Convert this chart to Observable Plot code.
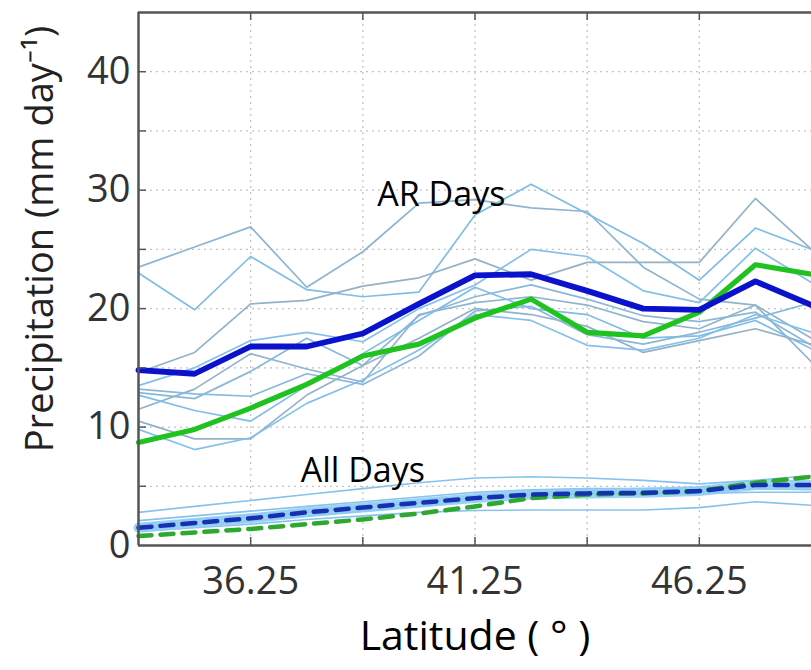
<!DOCTYPE html>
<html><head><meta charset="utf-8">
<script src="https://cdn.jsdelivr.net/npm/d3@7"></script>
<script src="https://cdn.jsdelivr.net/npm/@observablehq/plot@0.6"></script>
<style>html,body{margin:0;padding:0;background:#fff;overflow:hidden}</style>
</head><body><div id="chart"></div>
<script>
// Latitude grid (deg)
const lats = [33.75, 35, 36.25, 37.5, 38.75, 40, 41.25, 42.5, 43.75, 45, 46.25, 47.5, 48.75];

// AR days: individual models (thin light blue)
const arModels = [
  [23.5, 25.2, 26.9, 21.8, 24.8, 28.9, 29.2, 28.5, 28.2, 23.5, 20.8, 20.3, 15.5],
  [23.0, 19.9, 24.4, 21.6, 21.0, 21.4, 27.9, 30.5, 28.0, 25.5, 22.4, 26.8, 25.0],
  [14.6, 16.3, 20.4, 20.7, 21.9, 22.6, 24.2, 22.4, 23.9, 23.9, 23.9, 29.3, 25.0],
  [13.5, 15.0, 17.3, 18.0, 17.2, 20.0, 22.0, 25.0, 24.4, 21.5, 20.5, 25.1, 22.2],
  [12.9, 12.4, 14.7, 17.5, 15.2, 19.4, 21.0, 22.0, 20.8, 19.4, 18.9, 19.7, 16.9],
  [11.5, 13.2, 16.2, 14.9, 13.8, 19.5, 20.5, 21.0, 20.3, 18.9, 18.3, 20.3, 17.5],
  [12.7, 11.4, 10.5, 13.5, 16.2, 19.0, 21.8, 20.0, 19.5, 17.5, 17.7, 19.0, 16.6],
  [10.5, 9.0, 9.0, 12.7, 15.2, 17.5, 20.0, 19.5, 18.5, 16.3, 17.3, 18.3, 17.0],
  [9.8, 8.1, 9.1, 12.0, 14.0, 16.5, 19.5, 19.0, 16.9, 16.5, 17.5, 19.5, 18.0],
  [13.2, 12.8, 12.6, 14.5, 13.6, 16.0, 19.8, 20.2, 17.8, 17.0, 18.0, 19.2, 20.5]
];
// AR days: ensemble means
const arBlue  = [14.8, 14.5, 16.8, 16.8, 17.9, 20.4, 22.8, 22.9, 21.5, 20.0, 19.9, 22.3, 20.3];
const arGreen = [8.7, 9.8, 11.6, 13.6, 16.0, 17.0, 19.2, 20.8, 18.0, 17.7, 19.7, 23.7, 22.9];

// All days: individual models
const allModels = [
  [2.8, 3.3, 3.8, 4.3, 4.8, 5.3, 5.7, 5.8, 5.7, 5.5, 5.2, 5.5, 5.9],
  [2.1, 2.5, 2.9, 3.3, 3.7, 4.1, 4.5, 4.7, 4.8, 4.8, 4.9, 5.0, 5.2],
  [1.8, 2.2, 2.6, 3.0, 3.4, 3.8, 4.2, 4.5, 4.6, 4.6, 4.7, 5.0, 4.9],
  [1.4, 1.7, 2.1, 2.5, 2.9, 3.3, 3.8, 4.2, 4.3, 4.3, 4.4, 4.5, 4.5],
  [1.2, 1.5, 1.8, 2.2, 2.5, 2.8, 2.95, 3.0, 3.0, 3.0, 3.2, 3.7, 3.4],
  [1.6, 2.0, 2.4, 2.8, 3.2, 3.6, 4.0, 4.3, 4.4, 4.4, 4.5, 4.8, 4.7]
];
const allBlue  = [1.5, 1.9, 2.3, 2.8, 3.2, 3.6, 4.0, 4.3, 4.4, 4.45, 4.6, 5.1, 5.1];
const allGreen = [0.8, 1.1, 1.4, 1.8, 2.2, 2.7, 3.3, 4.0, 4.3, 4.4, 4.6, 5.3, 5.8];

// Axes
const xDomain = [33.75, 48.75];
const yDomain = [0, 45];
const xTickLabels = [36.25, 41.25, 46.25];
const yTickLabels = [0, 10, 20, 30, 40];
const xGrid = [36.25, 38.75, 41.25, 43.75, 46.25];
const yGrid = [5, 10, 15, 20, 25, 30, 35, 40];
const labels = [
  {text: "AR Days", lat: 40.5, p: 29.6},
  {text: "All Days", lat: 38.75, p: 6.3}
];

const thinColors = ["#8fb4cf", "#7fbde6", "#92b2c8", "#84c0ea", "#8ab8d8"];
const long = (arrs, prefix) => arrs.flatMap((a, i) => a.map((v, j) => ({lat: lats[j], v, id: prefix + i, c: thinColors[i % thinColors.length]})));
const series = a => a.map((v, j) => ({lat: lats[j], v}));

const W = 811, H = 670, mL = 138, mT = 12, mB = 125;
const fw = W - mL, fh = H - mT - mB;

const chart = Plot.plot({
  width: W, height: H,
  marginLeft: mL, marginRight: 0, marginTop: mT, marginBottom: mB,
  style: {fontFamily: "'Open Sans', sans-serif", background: "white", overflow: "hidden"},
  x: {domain: xDomain},
  y: {domain: yDomain},
  marks: [
    Plot.ruleX(xGrid, {stroke: "#c4c4c4", strokeDasharray: "2,4", strokeWidth: 1.3}),
    Plot.ruleY(yGrid, {stroke: "#c4c4c4", strokeDasharray: "2,4", strokeWidth: 1.3}),
    Plot.line(long(allModels, "a"), {x: "lat", y: "v", z: "id", stroke: "#86c3ec", strokeWidth: 1.6}),
    Plot.line(series(allBlue), {x: "lat", y: "v", stroke: "#8ecbf3", strokeWidth: 10, strokeOpacity: 0.85}),
    Plot.line(long(arModels, "m"), {x: "lat", y: "v", z: "id", stroke: "c", strokeWidth: 1.7}),
    Plot.line(series(allGreen), {x: "lat", y: "v", stroke: "#2fa82f", strokeWidth: 4.5, strokeDasharray: "13,9"}),
    Plot.line(series(allBlue), {x: "lat", y: "v", stroke: "#1530b0", strokeWidth: 4.5, strokeDasharray: "13,9"}),
    Plot.line(series(arGreen), {x: "lat", y: "v", stroke: "#1fc21f", strokeWidth: 5.2}),
    Plot.line(series(arBlue), {x: "lat", y: "v", stroke: "#0a12cc", strokeWidth: 5.8}),
    Plot.text(labels, {x: "lat", y: "p", text: "text", fontSize: 34, fill: "#000"}),
    // frame (left, top, bottom)
    Plot.ruleX([xDomain[0]], {stroke: "#555", strokeWidth: 2.5}),
    Plot.ruleY([yDomain[0], yDomain[1]], {stroke: "#555", strokeWidth: 2.5}),
    // inward tick marks
    Plot.ruleY(yGrid, {stroke: "#555", strokeWidth: 1.5, insetRight: fw - 8}),
    Plot.ruleX(xGrid, {stroke: "#555", strokeWidth: 1.5, insetTop: fh - 8}),
    Plot.ruleX(xGrid, {stroke: "#555", strokeWidth: 1.5, insetBottom: fh - 8}),
    Plot.axisX(xTickLabels, {tickSize: 0, tickPadding: 22, fontSize: 38, fill: "#333", label: null, tickFormat: d => d.toFixed(2)}),
    Plot.axisY(yTickLabels, {tickSize: 0, tickPadding: 8, fontSize: 38, fill: "#333", label: null}),
    Plot.text(["Latitude ( ° )"], {frameAnchor: "bottom", dy: 104, fontSize: 41, fill: "#000"}),
    Plot.text(["Precipitation (mm day⁻¹)"], {frameAnchor: "left", textAnchor: "middle", rotate: -90, dx: -98, dy: -40, fontSize: 38, fill: "#222"})
  ]
});
document.getElementById("chart").append(chart);
</script></body></html>
